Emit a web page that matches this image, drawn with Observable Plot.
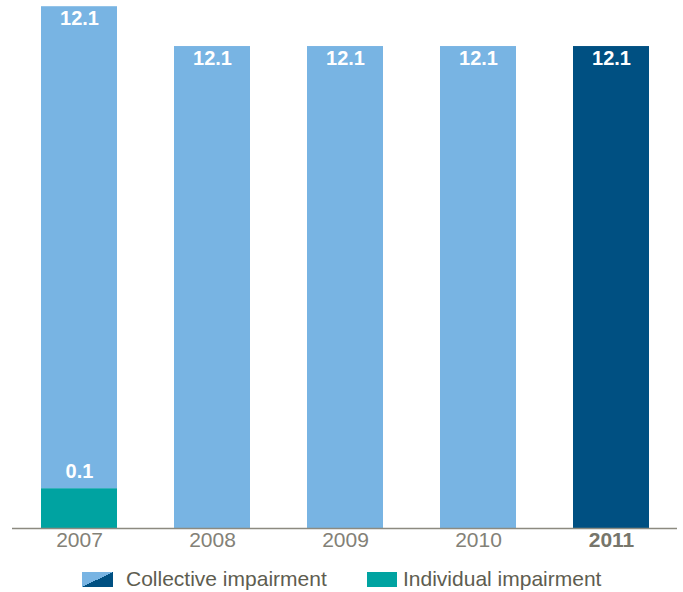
<!DOCTYPE html>
<html>
<head>
<meta charset="utf-8">
<script src="https://cdn.jsdelivr.net/npm/d3@7"></script>
<script src="https://cdn.jsdelivr.net/npm/@observablehq/plot@0.6"></script>
<style>
  body { margin: 0; background: #fff; font-family: "Liberation Sans", Arial, sans-serif; }
  #wrap { position: relative; width: 683px; height: 592px; }
  #legend { position: absolute; left: 0; top: 567px; width: 683px; height: 24px; font-size: 21px; color: #5e5d50; }
  .item { position: absolute; top: 0; display: flex; align-items: center; height: 24px; white-space: nowrap; }
  .sw { display: inline-block; }
</style>
</head>
<body>
<div id="wrap">
  <div id="chart"></div>
  <div id="legend"></div>
</div>
<script>
const years = ["2007", "2008", "2009", "2010", "2011"];
const collective = [12.1, 12.1, 12.1, 12.1, 12.1];
// NOTE: in the reference the 2007 individual segment is drawn about 1.0 units tall
// (same scale as the 12.1 bars), although its printed label reads "0.1".
// Bar heights follow the drawn picture; the labels keep the printed text.
const individual = [1.0, 0, 0, 0, 0];
const collectiveLabels = ["12.1", "12.1", "12.1", "12.1", "12.1"];
const individualLabels = ["0.1", "", "", "", ""];
const highlightYear = "2011";
const seriesNames = ["Collective impairment", "Individual impairment"];

const LIGHT = "#78b4e3", DARK = "#005082", TEAL = "#00a3a1";

const rows = [];
years.forEach((y, i) => {
  rows.push({year: y, series: "Individual", value: individual[i]});
  rows.push({year: y, series: "Collective", value: collective[i]});
});
const totals = years.map((y, i) => ({year: y, total: collective[i] + individual[i], label: collectiveLabels[i]}));
const indLabels = years.map((y, i) => ({year: y, v: individual[i], label: individualLabels[i]})).filter(d => d.label);

const chart = Plot.plot({
  width: 683,
  height: 560,
  marginLeft: 12,
  marginRight: 6,
  marginTop: 0,
  marginBottom: 32,
  style: {fontFamily: "'Liberation Sans', Arial, sans-serif", background: "#fff"},
  x: {domain: years, paddingInner: 0.43, paddingOuter: 0.215, axis: null},
  y: {domain: [0, 13.256], axis: null},
  marks: [
    Plot.barY(rows, {
      x: "year", y: "value",
      fill: d => d.series === "Individual" ? TEAL : (d.year === highlightYear ? DARK : LIGHT)
    }),
    Plot.ruleY([0], {stroke: "#8c8a80", strokeWidth: 1.5}),
    Plot.text(totals, {x: "year", y: "total", text: "label", dy: 12, fill: "white", fontWeight: "bold", fontSize: 20}),
    Plot.text(indLabels, {x: "year", y: "v", text: "label", dy: -17, fill: "white", fontWeight: "bold", fontSize: 20}),
    Plot.text(years.filter(y => y !== highlightYear), {x: d => d, frameAnchor: "bottom", dy: 18, fill: "#838177", fontSize: 21}),
    Plot.text([highlightYear], {x: d => d, frameAnchor: "bottom", dy: 18, fill: "#77766b", fontSize: 21, fontWeight: "bold"})
  ]
});
document.getElementById("chart").appendChild(chart);

const legend = document.getElementById("legend");
legend.innerHTML = `
  <div class="item" style="left:82px"><span class="sw" style="width:31px;height:15px;margin-right:13px;background:linear-gradient(to bottom right, ${LIGHT} 50%, ${DARK} 50%)"></span>${seriesNames[0]}</div>
  <div class="item" style="left:367px"><span class="sw" style="width:30px;height:15px;margin-right:6px;background:${TEAL}"></span>${seriesNames[1]}</div>`;
</script>
</body>
</html>
